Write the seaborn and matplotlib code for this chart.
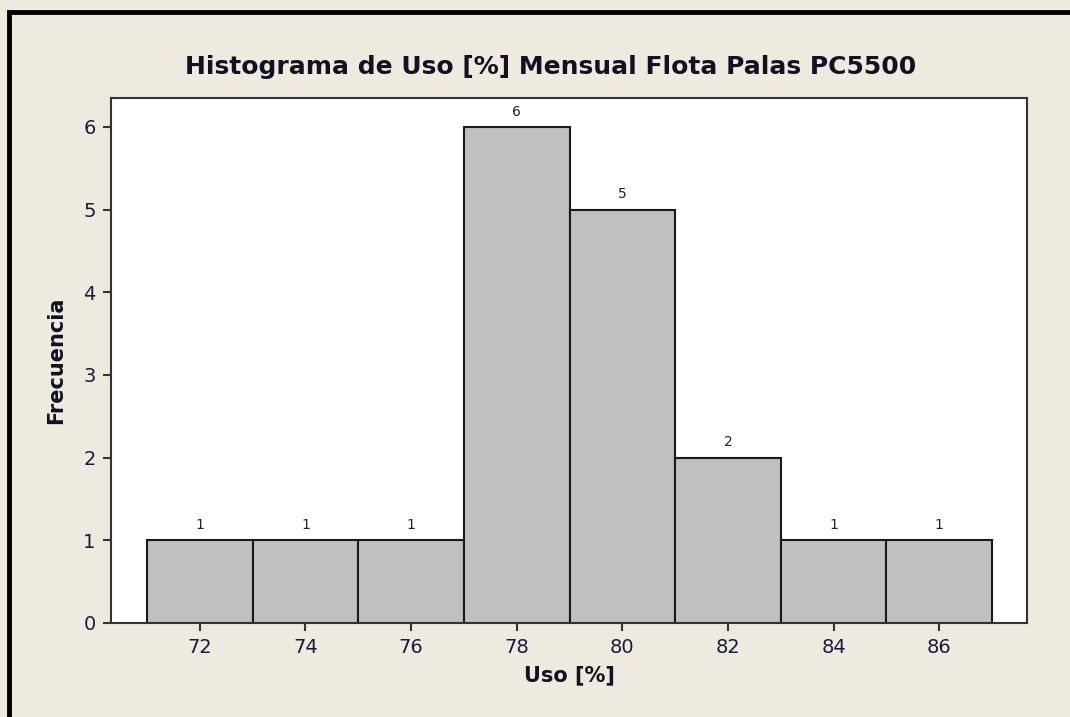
#!/usr/bin/env python3
"""
Histograma de uso mensual - flota palas PC5500
"""

import numpy as np
import matplotlib
matplotlib.use("Agg")
import matplotlib.pyplot as plt
import seaborn as sns
from matplotlib.patches import Rectangle

# Data
bin_edges = [71, 73, 75, 77, 79, 81, 83, 85, 87]
bin_centers = [72, 74, 76, 78, 80, 82, 84, 86]
counts = [1, 1, 1, 6, 5, 2, 1, 1]
x_ticks = [72, 74, 76, 78, 80, 82, 84, 86]
y_ticks = [0, 1, 2, 3, 4, 5, 6]

BG = "#EEEAE0"
BAR = "#C0C0C0"

sns.set_theme(style="white")
plt.rcParams['font.family'] = ['DejaVu Sans']

fig = plt.figure(figsize=(10.7, 7.17), dpi=100, facecolor=BG)
ax = fig.add_axes([111 / 1070, 1 - 623 / 717, (1027 - 111) / 1070, (623 - 98) / 717])
ax.set_facecolor("white")

sns.histplot(x=bin_centers, weights=counts, bins=bin_edges, ax=ax,
             color=BAR, alpha=1, edgecolor="#1a1a1a", linewidth=1.5)

for c, n in zip(bin_centers, counts):
    ax.text(c, n + 0.1, str(n), ha="center", va="bottom", fontsize=10, color="#222222")

ax.set_xlim(70.32, 87.66)
ax.set_ylim(0, 6.35)
ax.set_xticks(x_ticks)
ax.set_yticks(y_ticks)
ax.tick_params(axis="both", direction="out", length=6, width=1.5, color="#333333",
               labelsize=14, labelcolor="#1a1a3a", bottom=True, left=True, pad=5)
for s in ax.spines.values():
    s.set_color("#333333")
    s.set_linewidth(1.5)

ax.set_xlabel("Uso [%]", fontsize=15, fontweight="bold", color="#111122", labelpad=6)
ax.set_ylabel("Frecuencia", fontsize=15, fontweight="bold", color="#111122", labelpad=12)
fig.text(0.5146, 1 - 67 / 717, "Histograma de Uso [%] Mensual Flota Palas PC5500",
         ha="center", va="center", fontsize=18, fontweight="bold", color="#111122")

# black frame on the left and top of the figure
fig.patches.append(Rectangle((9 / 1070, -0.1), 1.2, 1 - 11.5 / 717 + 0.1,
                             transform=fig.transFigure, fill=False,
                             edgecolor="black", linewidth=3.5, zorder=10))

fig.savefig("out.png", dpi=100, facecolor=BG)
